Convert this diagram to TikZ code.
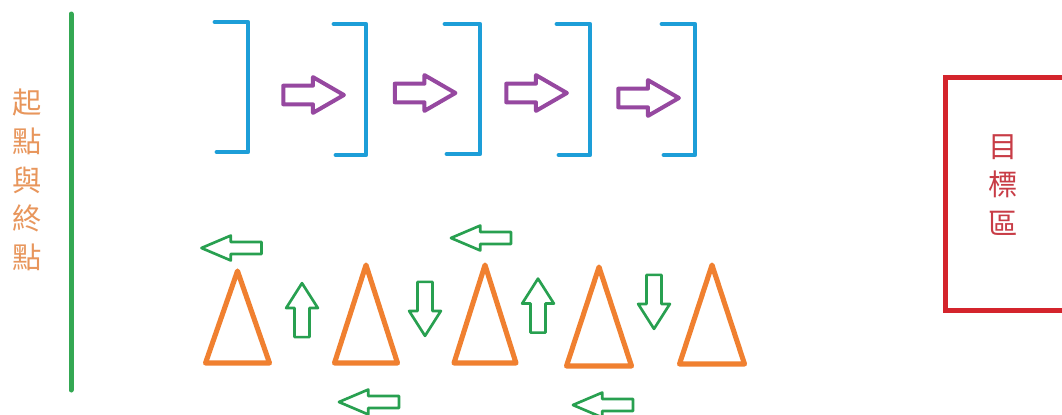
\documentclass[tikz,border=0pt]{standalone}
\usepackage{fontspec}
\newfontfamily\cjk{Noto Sans CJK TC}
\usepackage{tikz}
\usetikzlibrary{shapes.arrows}
\definecolor{LaneGreen}{RGB}{52,168,83}
\definecolor{ArrowGreen}{RGB}{40,160,80}
\definecolor{BracketBlue}{RGB}{29,158,216}
\definecolor{StepPurple}{RGB}{150,72,160}
\definecolor{ConeOrange}{RGB}{240,128,48}
\definecolor{LabelOrange}{RGB}{232,150,92}
\definecolor{GoalRed}{RGB}{212,36,44}
\definecolor{GoalText}{RGB}{200,60,70}

\begin{document}
\begin{tikzpicture}[x=0.75pt,y=-0.75pt,
    bracket/.style={draw=BracketBlue,line width=3.6pt,line cap=round,line join=round},
    cone/.style={draw=ConeOrange,line width=3.8pt,line join=round},
    fwd/.style={single arrow,draw=StepPurple,line width=3pt,line join=round,
                minimum height=45.5pt,minimum width=23.8pt,inner xsep=0pt,inner ysep=5.5pt,
                single arrow head extend=6.4pt,single arrow tip angle=60},
    side/.style={single arrow,draw=ArrowGreen,line width=2pt,line join=round,rotate=180,
                 minimum height=45pt,minimum width=16.7pt,inner xsep=0pt,inner ysep=3.5pt,
                 single arrow head extend=4.85pt,single arrow tip angle=46},
    updown/.style={single arrow,draw=ArrowGreen,line width=2pt,line join=round,
                   minimum height=40.5pt,minimum width=21.75pt,inner xsep=0pt,inner ysep=4.6pt,
                   single arrow head extend=6.3pt,single arrow tip angle=65},
    vtext/.style={font=\cjk\fontsize{22}{29}\selectfont,align=center,inner sep=0pt}]

    \fill[white] (0,0) rectangle (1062,414);
    \useasboundingbox (0,0) rectangle (1062,414);

    % Start / finish line
    \draw[draw=LaneGreen,line width=3.75pt,line cap=round] (71,14) -- (71,390);
    \node[vtext,text=LabelOrange] (start) at (27,180) {起\\點\\與\\終\\點};

    % Brackets
    \foreach \l/\r/\t/\b in {215/248/22/152, 334/366/24/155, 445/480/24/154,
                             557/590/24/155, 662/695/24/155}
      \draw[bracket] (\l,\t) -- (\r,\t) -- (\r,\b) -- (\l+2,\b);

    % Forward arrows
    \foreach \i/\x/\y in {1/305.5/95, 2/417/93, 3/528.5/93, 4/640.5/98}
      \node[fwd] (A\i) at (\x,\y) {};

    % Cones
    \foreach \cx/\hw/\top/\base in {237.5/32/271/363, 366/31.5/265/363, 485/31/265/363,
                                    599/32.5/267/366, 712/32.5/265/364}
      \draw[cone] (\cx-\hw,\base) -- (\cx,\top) -- (\cx+\hw,\base) -- cycle;

    % Green arrows
    \foreach \i/\x/\y in {1/238.5/248, 2/488/238, 3/376/402, 4/610/405}
      \node[side] (G\i) at (\x,\y) {};
    \node[updown,rotate=90] (U1) at (302,316) {};
    \node[updown,rotate=90] (U2) at (538,311.5) {};
    \node[updown,rotate=-90] (D1) at (425,303) {};
    \node[updown,rotate=-90] (D2) at (654,296) {};

    % Goal area
    \draw[draw=GoalRed,line width=3.75pt] (1090,77.5) -- (945.5,77.5) -- (945.5,310.5) -- (1090,310.5);
    \node[vtext,text=GoalText] (goal) at (1003,185) {目\\標\\區};
\end{tikzpicture}
\end{document}
